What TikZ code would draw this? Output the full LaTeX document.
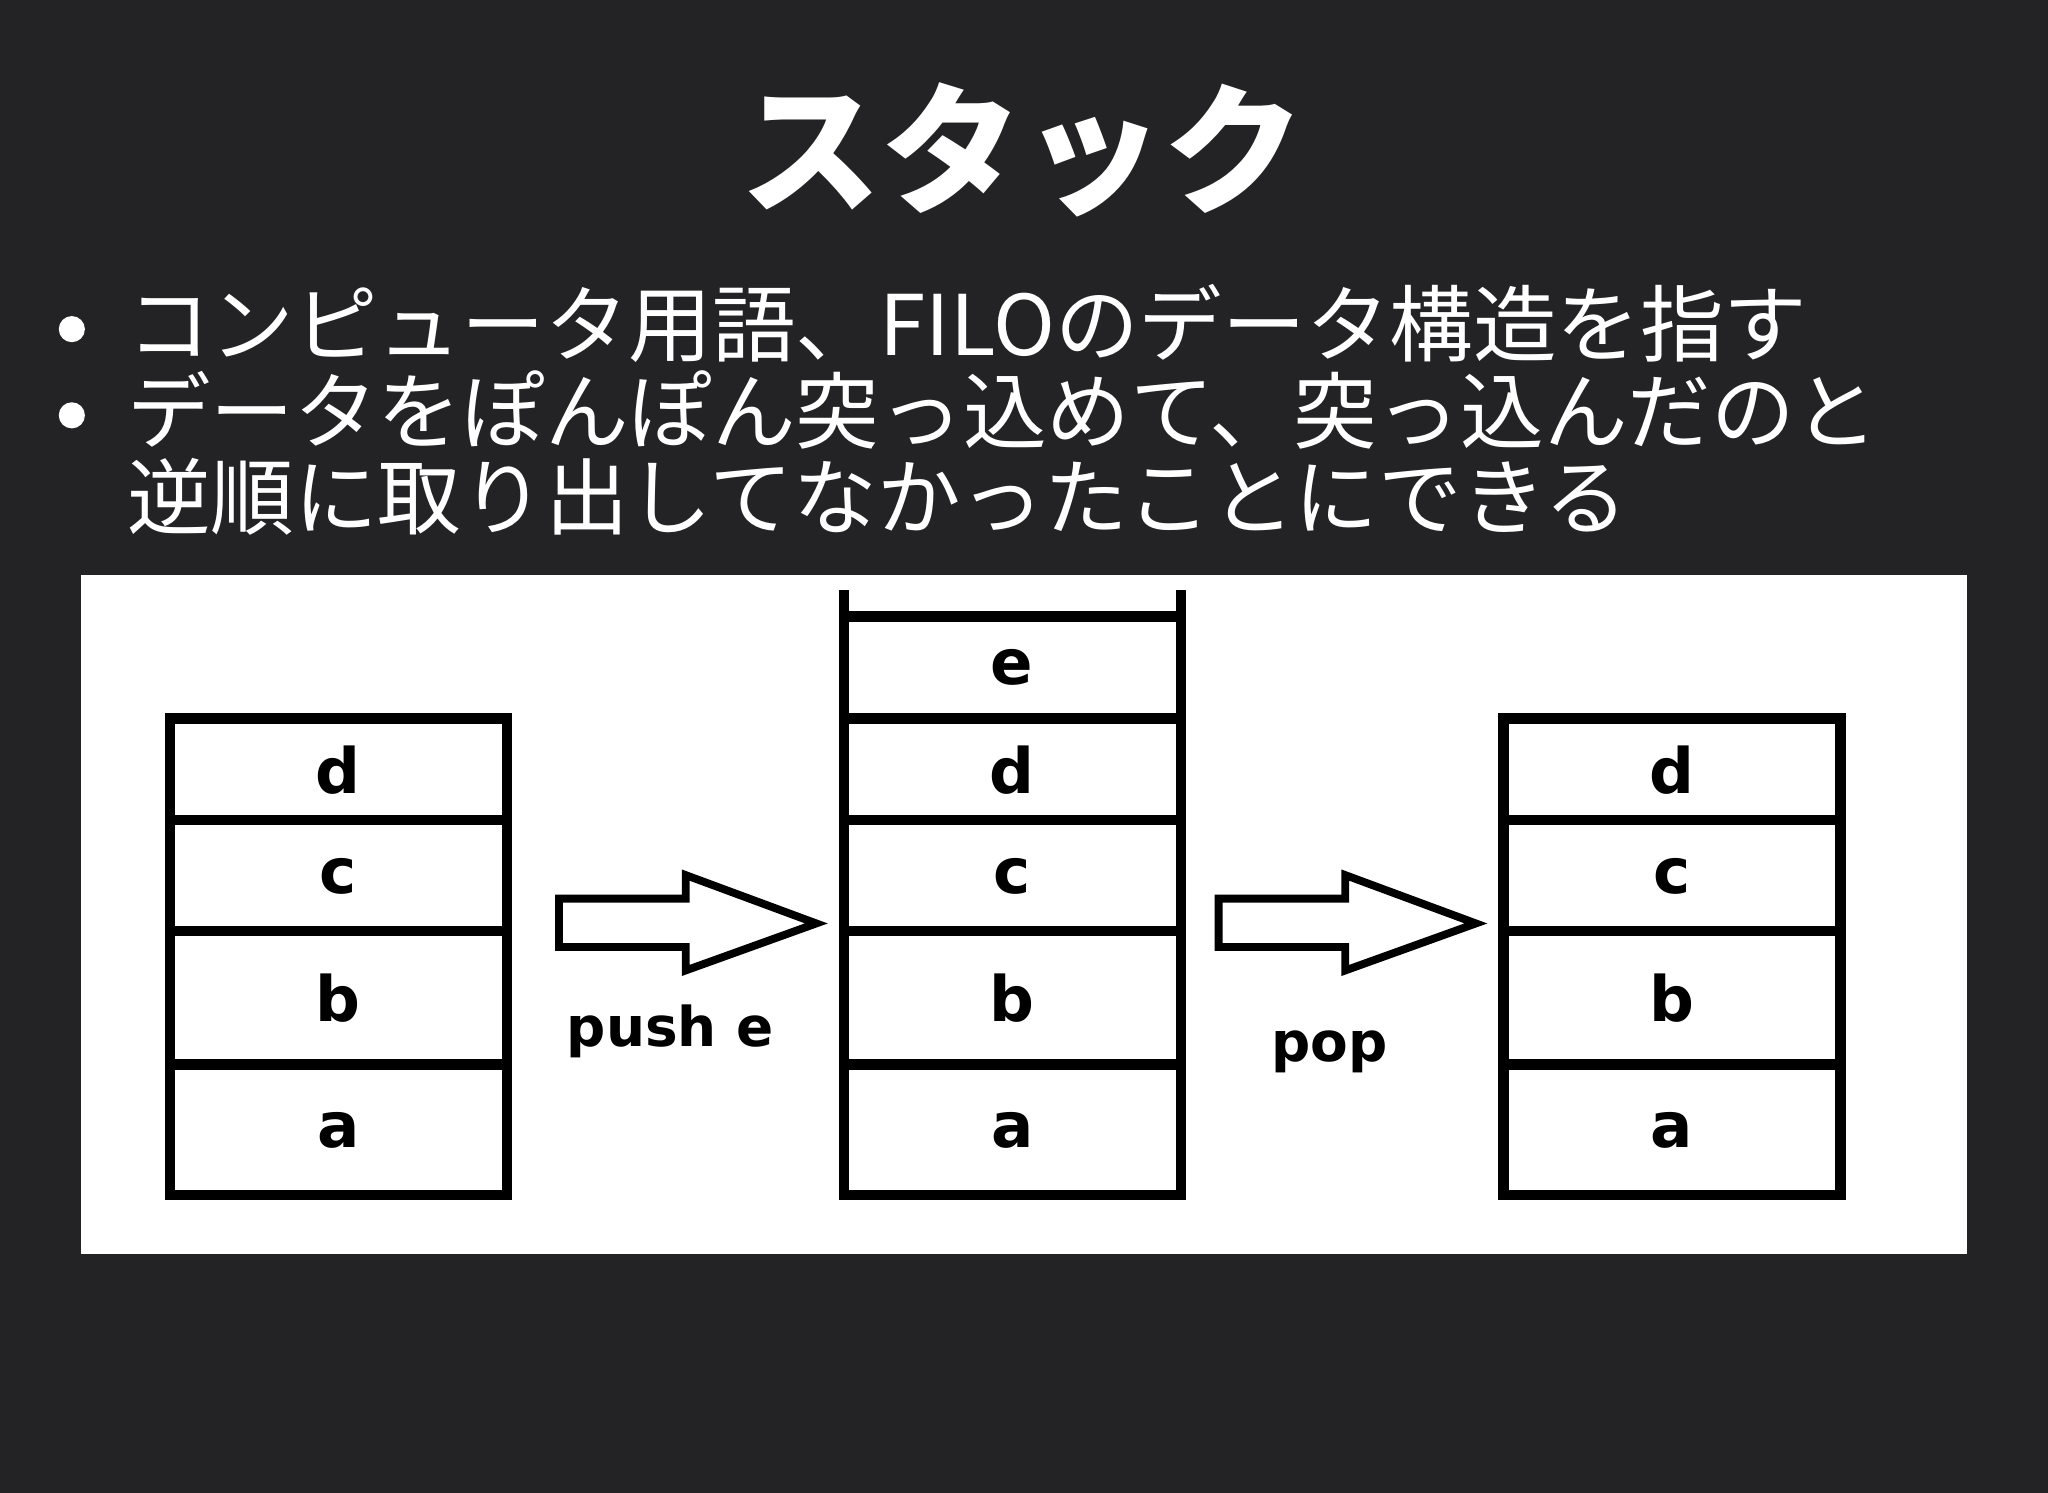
\documentclass[tikz,border=0pt]{standalone}
\usepackage{fontspec}
\newfontfamily\jp{Noto Sans CJK JP}
\newfontfamily\dv{DejaVu Sans}
\definecolor{bg}{HTML}{232224}
\begin{document}
\begin{tikzpicture}[x=0.5pt,y=-0.5pt,
  cell/.style={draw=black,line width=4pt,fill=white,minimum width=129pt,inner sep=0pt,font=\dv\bfseries\fontsize{24}{24}\selectfont,text=black,text depth=-3pt},
  harrow/.style={draw=black,line width=3pt,fill=white,line join=miter},
  lbl/.style={font=\dv\bfseries\fontsize{21}{21}\selectfont,text=black},
  jtxt/.style={text=white,anchor=west,inner sep=0pt,font=\jp\fontsize{32}{32}\selectfont}]
\fill[bg] (0,0) rectangle (1568,1143);
\useasboundingbox (0,0) rectangle (1568,1143);
\node[text=white,font=\jp\bfseries\fontsize{54}{54}\selectfont] (title) at (783,115) {スタック};
\fill[white] (55,252) circle (10);
\fill[white] (55,318) circle (10);
\node[jtxt] (l1) at (97,248) {コンピュータ用語、FILOのデータ構造を指す};
\node[jtxt] (l2) at (97,314) {データをぽんぽん突っ込めて、突っ込んだのと};
\node[jtxt] (l3) at (97,380) {逆順に取り出してなかったことにできる};
\fill[white] (62,440) rectangle (1506,960);
\foreach \n/\t/\b in {d/550/628, c/628/713, b/713/815, a/815/915}{
  \node[cell,minimum height={(\b-\t)*0.5pt}] (L\n) at (259,{(\t+\b)/2}) {\n};}
\foreach \n/\t/\b in {e/472/550, d/550/628, c/628/713, b/713/815, a/815/915}{
  \node[cell,minimum height={(\b-\t)*0.5pt}] (M\n) at (775,{(\t+\b)/2}) {\n};}
\draw[line width=4pt] ([xshift=2pt]Me.north west) -- ++(0,-16);
\draw[line width=4pt] ([xshift=-2pt]Me.north east) -- ++(0,-16);
\foreach \n/\t/\b in {d/550/628, c/628/713, b/713/815, a/815/915}{
  \node[cell,minimum height={(\b-\t)*0.5pt}] (R\n) at (1280,{(\t+\b)/2}) {\n};}
\draw[harrow] (428,688) -- (525,688) -- (525,670) -- (625,707) -- (525,743) -- (525,725) -- (428,725) -- cycle;
\draw[harrow] (933,688) -- (1030,688) -- (1030,670) -- (1130,707) -- (1030,743) -- (1030,725) -- (933,725) -- cycle;
\node[lbl] (push) at (513,790) {push e};
\node[lbl] (pop) at (1018,805) {pop};
\end{tikzpicture}
\end{document}
